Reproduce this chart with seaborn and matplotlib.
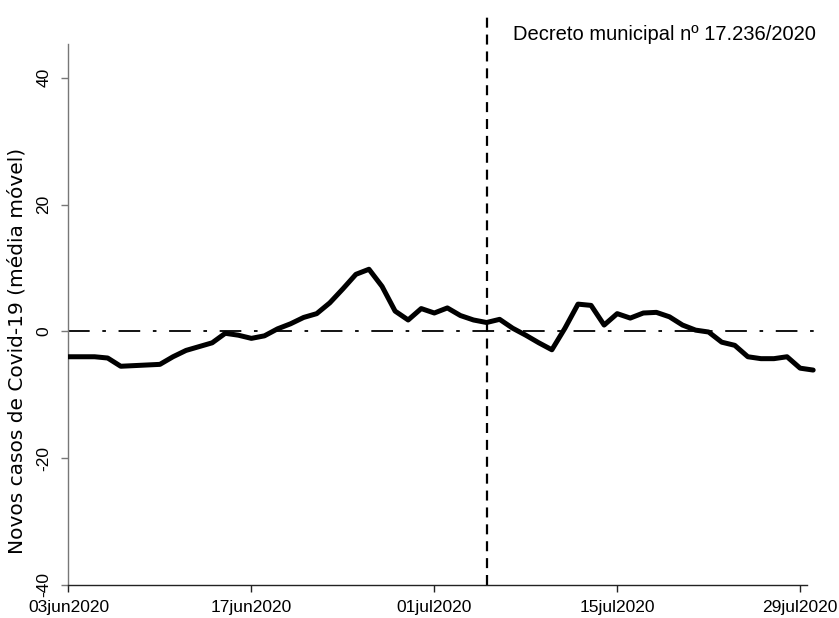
import pandas as pd
import numpy as np
import matplotlib.pyplot as plt
import matplotlib.dates as mdates
import seaborn as sns

# Daily moving average of new Covid-19 cases, 03jun2020 onwards
start_date = "2020-06-03"
new_cases_ma = [
    -4.0, -4.0, -4.0, -4.2, -5.5, -5.4, -5.3, -5.2, -4.0, -3.0,
    -2.4, -1.8, -0.3, -0.6, -1.1, -0.7, 0.4, 1.2, 2.2, 2.8,
    4.5, 6.7, 9.0, 9.8, 7.1, 3.2, 1.8, 3.6, 2.9, 3.7,
    2.5, 1.8, 1.4, 1.9, 0.5, -0.6, -1.8, -2.9, 0.5, 4.3,
    4.1, 1.0, 2.8, 2.1, 2.9, 3.0, 2.3, 1.0, 0.2, -0.1,
    -1.7, -2.2, -4.0, -4.3, -4.3, -4.0, -5.8, -6.1,
]
decree_date = "2020-07-05"
decree_label = "Decreto municipal nº 17.236/2020"
x_tick_dates = ["2020-06-03", "2020-06-17", "2020-07-01", "2020-07-15", "2020-07-29"]
x_tick_labels = ["03jun2020", "17jun2020", "01jul2020", "15jul2020", "29jul2020"]
y_ticks = [-40, -20, 0, 20, 40]
y_label = "Novos casos de Covid-19 (média móvel)"

df = pd.DataFrame({
    "Data": pd.date_range(start=start_date, periods=len(new_cases_ma), freq="D"),
    "Casos": new_cases_ma,
})

sns.set_theme(style="white")
plt.rcParams["font.family"] = ["Liberation Sans", "DejaVu Sans"]

fig = plt.figure(figsize=(8.39, 6.18), dpi=100)
ax = fig.add_axes([0.081, 0.0534, 0.896, 0.9223])

# zero reference and decree marker
ax.axhline(0, color="black", linewidth=1.3, linestyle=(0, (12, 7, 2, 7)), zorder=1)
ax.axvline(pd.Timestamp(decree_date), color="black", linewidth=1.6,
           linestyle=(0, (4.5, 3.1)), zorder=1)

sns.lineplot(data=df, x="Data", y="Casos", ax=ax, color="black",
             linewidth=3.6, errorbar=None, zorder=3,
             solid_joinstyle="round", solid_capstyle="round")

day0 = mdates.date2num(pd.Timestamp(start_date))
ax.set_xlim(day0 - 0.04, day0 + 57.5)
ax.set_ylim(-40, 49.9)

ax.text(day0 + 34.0, 46.8, decree_label,
        fontsize=14.5, ha="left", va="center", color="black")

ax.set_xticks(mdates.date2num(pd.to_datetime(x_tick_dates)))
ax.set_xticklabels(x_tick_labels, fontsize=12.5, color="black")
ax.set_yticks(y_ticks)
ax.set_yticklabels([str(v) for v in y_ticks], fontsize=12.5, rotation=90,
                   va="center", color="black")
ax.set_xlabel("")
ax.set_ylabel(y_label, fontsize=14.5, family=["DejaVu Sans"], color="black")
ax.yaxis.set_label_coords(-0.0545, 0.41)

for side in ["top", "right"]:
    ax.spines[side].set_visible(False)
ax.spines["left"].set_color("#777777")
ax.spines["left"].set_linewidth(1.0)
ax.spines["left"].set_bounds(-40, 45.3)
ax.spines["bottom"].set_color("#222222")
ax.spines["bottom"].set_linewidth(1.0)
ax.spines["bottom"].set_bounds(day0, day0 + 56.5)
ax.tick_params(axis="y", direction="out", length=5, width=1, color="#777777", pad=7, left=True)
ax.tick_params(axis="x", direction="out", length=5, width=1, color="#222222", pad=6, bottom=True)

fig.savefig("out.png", dpi=100)
